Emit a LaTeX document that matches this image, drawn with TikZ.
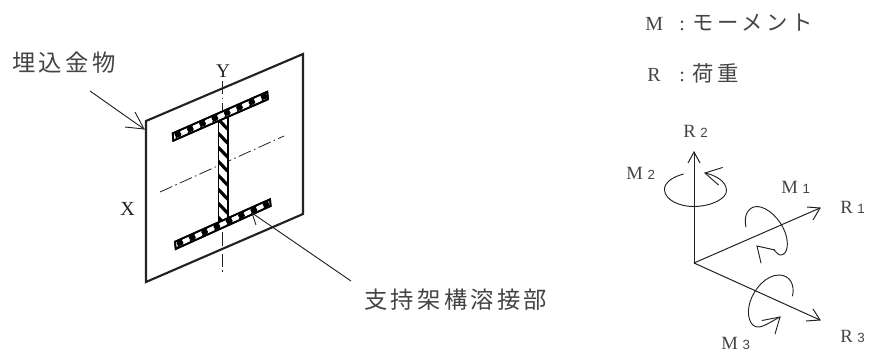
\documentclass[tikz,border=0pt]{standalone}
\usepackage{fontspec}
\setmainfont{Liberation Serif}
\newfontfamily\jp[LetterSpace=14]{Noto Sans CJK JP}
\newfontfamily\jpleg[LetterSpace=17]{Noto Sans CJK JP}
\newfontfamily\subfont{Liberation Sans}
\definecolor{ink}{HTML}{222222}
\definecolor{soft}{HTML}{444444}
\newcommand{\subnum}[1]{\hspace{3.5pt}{\subfont\fontsize{10pt}{11pt}\selectfont #1}}
\tikzset{
  plate/.style={draw=ink,line width=1.6pt,line join=miter},
  weldbox/.style={draw=black,line width=1.3pt,fill=white,line join=miter},
  centre/.style={draw=ink,line width=.6pt,dash pattern=on 10pt off 2.5pt on 1.2pt off 2.5pt},
  leader/.style={draw=ink,line width=.7pt},
  axis/.style={draw=ink,line width=.75pt},
  loopline/.style={draw=ink,line width=.7pt,line cap=round},
  lab/.style={inner sep=0pt,anchor=west,text=soft,font=\fontsize{14pt}{15pt}\selectfont},
  axlab/.style={inner sep=0pt,text=ink,font=\fontsize{14.5pt}{15pt}\selectfont},
  jplab/.style={inner sep=0pt,anchor=west,text=soft,font=\fontsize{17.5pt}{19pt}\selectfont\jp},
  toplab/.style={inner sep=0pt,text=soft,anchor=west,font=\fontsize{15pt}{17pt}\selectfont}
}
\newcommand{\blobs}[4]{% x0 y0 dx dy along the flange
  \foreach \k in {0,...,7}{
    \pgfmathsetmacro{\px}{#1+\k*#3}
    \pgfmathsetmacro{\py}{#2+\k*#4}
    \fill[black] (\px,\py) ellipse [x radius=2.6pt,y radius=2.1pt];
    \draw[black,line width=1.1pt] (\px-2,\py+4) -- (\px+2,\py-4);
  }}
\begin{document}
\begin{tikzpicture}[x=0.75pt,y=-0.75pt]
\useasboundingbox (0,0) rectangle (873,354);
% plate
\coordinate (pa) at (146,121);
\coordinate (pb) at (303,54);
\coordinate (pc) at (303,214);
\coordinate (pd) at (146,282);
\draw[plate] (pa) -- (pb) -- (pc) -- (pd) -- cycle;
% centre lines
\coordinate (vt) at (222.7,81);
\coordinate (vb) at (222.7,275);
\coordinate (hl) at (160,192);
\coordinate (hr) at (284,136);
\draw[centre] (vt) -- (vb);
\draw[centre] (hl) -- (hr);
% web weld
\path[weldbox] (218.5,113) rectangle (228,222);
\begin{scope}
\clip (218.5,113) rectangle (228,222);
\foreach \yy in {105,119,...,222}{
  \draw[black,line width=2.4pt] (218,\yy) -- (228.5,\yy+11);
}
\end{scope}
\draw[draw=black,line width=1.3pt] (218.5,113) rectangle (228,222);
% top flange
\path[weldbox] (172.7,133.3) -- (267.3,91.7) -- (268,99.3) -- (173.3,140.7) -- cycle;
\begin{scope}
\clip (172.7,133.3) -- (267.3,91.7) -- (268,99.3) -- (173.3,140.7) -- cycle;
\blobs{178}{134.5}{12.3}{-5.4}
\end{scope}
\draw[draw=black,line width=1.3pt] (172.7,133.3) -- (267.3,91.7) -- (268,99.3) -- (173.3,140.7) -- cycle;
% bottom flange
\path[weldbox] (175,241.7) -- (270,199.3) -- (270.7,206) -- (175.7,249) -- cycle;
\begin{scope}
\clip (175,241.7) -- (270,199.3) -- (270.7,206) -- (175.7,249) -- cycle;
\blobs{180}{243}{12.3}{-5.5}
\end{scope}
\draw[draw=black,line width=1.3pt] (175,241.7) -- (270,199.3) -- (270.7,206) -- (175.7,249) -- cycle;
% labels left
\node[axlab] (ylab) at (223,71.5) {Y};
\node[axlab,font=\fontsize{15pt}{16pt}\selectfont] (xlab) at (127.5,208.5) {X};
\node[jplab] (embed) at (12,63) {埋込金物};
\node[jplab] (weld) at (364,300) {支持架構溶接部};
% leaders
\coordinate (la) at (90,91);
\coordinate (lb) at (144,129);
\draw[leader] (la) -- (lb);
\draw[leader] (125,127) -- (lb) -- (135,112);
\coordinate (wa) at (351,281);
\coordinate (wb) at (252,213);
\coordinate (wc) at (256,225);
\draw[leader] (wa) -- (wb) -- (wc);
% top right legend
\node[toplab] (mleg) at (645,22.5) {\makebox[25.5pt][l]{M}\makebox[10pt][l]{:}{\jpleg\fontsize{16pt}{17pt}\selectfont モーメント}};
\node[toplab] (rleg) at (647,73) {\makebox[24pt][l]{R}\makebox[10pt][l]{:}{\jpleg\fontsize{16pt}{17pt}\selectfont 荷重}};
% axes
\coordinate (o) at (694,263);
\coordinate (r2t) at (694,152);
\coordinate (r1t) at (820,208);
\coordinate (r3t) at (820,320);
\draw[axis] (o) -- (r2t);
\draw[axis] (o) -- (r1t);
\draw[axis] (o) -- (r3t);
\draw[axis] (688,163) -- (r2t) -- (700,163);
\draw[axis] (807,207) -- (r1t) -- (813,220);
\draw[axis] (813,309) -- (r3t) -- (806,321);
% M2
\draw[loopline] (683.5,174) .. controls (672,177) and (664,183) .. (664.5,190)
  .. controls (665,200) and (680,207) .. (695,206.5)
  .. controls (711,206) and (727,199) .. (726.5,190)
  .. controls (726,181) and (715,175) .. (705,173);
\draw[loopline] (722.5,167.5) -- (705,173) -- (718.5,185);
% M1
\draw[loopline] (746,227) .. controls (743,215) and (749,206.5) .. (757,206.5)
  .. controls (768,207) and (780,219) .. (785,232)
  .. controls (789,243) and (788,254) .. (781,255)
  .. controls (779,255.5) and (777,253) .. (774,250);
\draw[loopline] (775,250) -- (757,246) -- (761,263);
% M3
\draw[loopline] (792.5,296) .. controls (795,285) and (790,275) .. (779,275)
  .. controls (766,275) and (754,289) .. (750,302)
  .. controls (746,315) and (750,327) .. (758,327)
  .. controls (764,327) and (772,321) .. (780,317);
\draw[loopline] (762,320.5) -- (780,317) -- (775,334);
% axis labels
\node[lab] (r2lab) at (683,131) {R\subnum{2}};
\node[lab] (m2lab) at (626,173) {M\subnum{2}};
\node[lab] (m1lab) at (781,187) {M\subnum{1}};
\node[lab] (r1lab) at (840,207) {R\subnum{1}};
\node[lab] (r3lab) at (840,336) {R\subnum{3}};
\node[lab] (m3lab) at (721,343) {M\subnum{3}};
\end{tikzpicture}
\end{document}
